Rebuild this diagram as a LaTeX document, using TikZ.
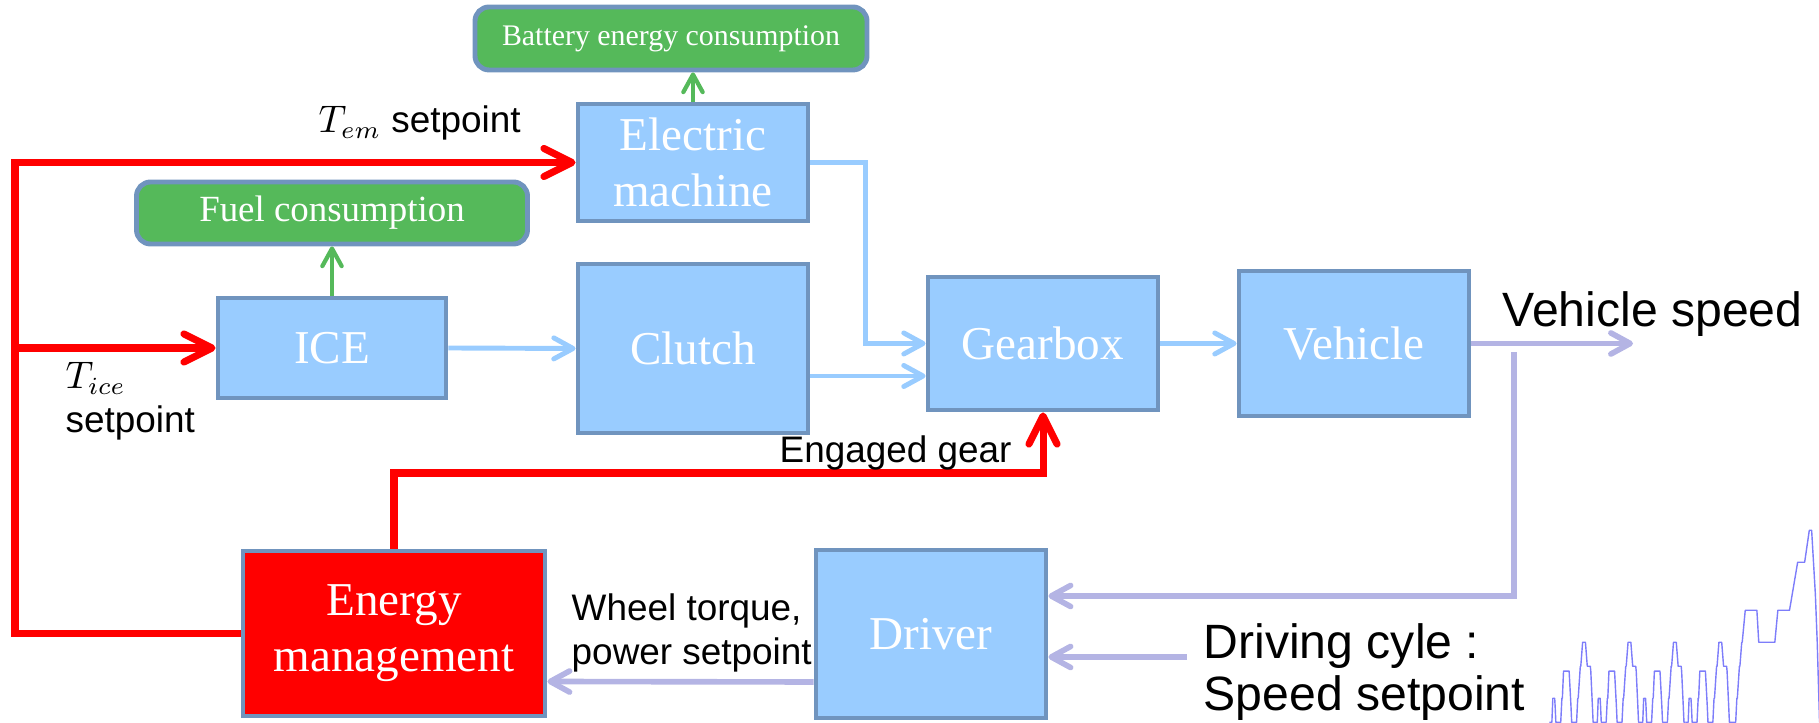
\documentclass[tikz,border=0pt]{standalone}
\usepackage{fontspec}
\setmainfont{Liberation Serif}
\setsansfont{Liberation Sans}
\usepackage{tikz}
\usetikzlibrary{arrows.meta}

\definecolor{boxblue}{RGB}{153,204,255}
\definecolor{edgeblue}{RGB}{112,148,190}
\definecolor{outgreen}{RGB}{85,185,90}
\definecolor{lavender}{RGB}{180,180,228}
\definecolor{cyclecol}{RGB}{125,125,250}

\begin{document}
\begin{tikzpicture}[
    block/.style={draw=edgeblue, line width=1.4pt, fill=boxblue, text=white, inner sep=0pt,
      align=center, font=\fontsize{13.4pt}{15.9pt}\selectfont},
    outbox/.style={draw=edgeblue, line width=1.4pt, fill=outgreen, text=white,
      rounded corners=4pt, inner sep=0pt},
    ctrl/.style={red, line width=2pt, -{Straight Barb[round,length=8pt,width=8pt]}},
    power/.style={boxblue, line width=1.4pt, -{Straight Barb[round,length=5.5pt,width=6pt]}},
    signal/.style={lavender, line width=1.6pt, -{Straight Barb[round,length=5.5pt,width=6pt]}},
    result/.style={outgreen, line width=1.2pt, -{Straight Barb[round,length=5pt,width=5.5pt]}},
    lbl/.style={inner sep=0pt, font=\sffamily\fontsize{10.5pt}{12.5pt}\selectfont},
    biglbl/.style={inner sep=0pt, align=left, font=\sffamily\fontsize{13.7pt}{14.8pt}\selectfont},
    cyc/.style={cyclecol, line width=0.4pt, line join=round},
  ]
  \useasboundingbox (0,0) rectangle (18.19,-7.23);

  % --- Outputs ---
  \node[outbox, minimum width=3.92cm, minimum height=0.63cm,
    font=\fontsize{8.5pt}{10pt}\selectfont] (battery) at (6.71,-0.385) {Battery energy consumption};
  \node[outbox, minimum width=3.91cm, minimum height=0.62cm,
    font=\fontsize{10.5pt}{12pt}\selectfont] (fuel) at (3.32,-2.13) {Fuel consumption};

  % --- Powertrain ---
  \node[block, minimum width=2.30cm, minimum height=1.17cm] (em) at (6.93,-1.625) {Electric\\machine};
  \node[block, minimum width=2.28cm, minimum height=1.00cm] (ice) at (3.32,-3.48) {ICE};
  \node[block, minimum width=2.30cm, minimum height=1.69cm] (clutch) at (6.93,-3.485) {Clutch};
  \node[block, minimum width=2.30cm, minimum height=1.33cm] (gearbox) at (10.43,-3.435) {Gearbox};
  \node[block, minimum width=2.30cm, minimum height=1.45cm] (vehicle) at (13.54,-3.435) {Vehicle};

  % --- Control ---
  \node[block, fill=red, minimum width=3.02cm, minimum height=1.65cm] (energy) at (3.94,-6.335) {Energy\\management};
  \node[block, minimum width=2.30cm, minimum height=1.68cm] (driver) at (9.31,-6.34) {Driver};

  % red setpoints
  \coordinate (bus) at (0.15,-1.625);
  \coordinate (gearlvl) at (0,-4.73);
  \draw[ctrl] (energy.west) -| (bus) -- (em.west);
  \draw[ctrl] (bus |- ice.west) -- (ice.west);
  \draw[ctrl] (energy.north) |- (gearbox.south |- gearlvl) -- (gearbox.south);

  % consumption
  \draw[result] (ice.north) -- (fuel.south);
  \draw[result] (em.north) -- (em.north |- battery.south);

  % power flow
  \draw[power] (ice.east) -- (clutch.west);
  \draw[power] (em.east) -- ++(0.55,0) |- (gearbox.west);
  \draw[power] ([yshift=-0.275cm]clutch.east) -- ([yshift=-0.325cm]gearbox.west);
  \draw[power] (gearbox.east) -- (vehicle.west);

  % speed loop
  \coordinate (speedout) at (16.33,-3.435);
  \coordinate (tap) at (15.14,-3.52);
  \coordinate (cyclein) at (11.87,-6.57);
  \draw[signal] (vehicle.east) -- (speedout);
  \draw[signal] (tap) |- ([yshift=0.38cm]driver.east);
  \draw[signal] (cyclein) -- (cyclein -| driver.east);
  \draw[signal] ([yshift=-0.48cm]driver.west) -- ([yshift=-0.48cm]energy.east);

  % labels
  \node[lbl, anchor=base west] (temlbl) at (3.18,-1.33) {$T_{em}$ setpoint};
  \node[lbl, anchor=north west, align=left] (ticelbl) at (0.65,-3.62) {$T_{ice}$\\setpoint};
  \node[lbl, anchor=base west] (gearlbl) at (7.79,-4.63) {Engaged gear};
  \node[lbl, anchor=north west, align=left] (wheellbl) at (5.71,-5.93) {Wheel torque,\\power setpoint};
  \node[biglbl, anchor=base west] (speedlbl) at (15.02,-3.27) {Vehicle speed};
  \node[biglbl, anchor=north west] (cyclelbl) at (12.03,-6.23) {Driving cyle :\\Speed setpoint};

  % driving cycle (4 x ECE-15 + EUDC)
  \begin{scope}
    \clip (0,0) rectangle (18.19,-7.23);
    \begin{scope}[shift={(15.493,-7.223)}, x=0.0233mm, y=0.16mm]
      \foreach \k in {0,...,3}
        \draw[cyc, shift={(\k*195,0)}] plot coordinates {(0,0) (11,0) (15,15) (23,15) (25,10) (28,0)
          (49,0) (54,15) (56,15) (61,32) (85,32) (93,10) (96,0) (117,0) (122,15) (124,15) (133,35)
          (135,35) (143,50) (155,50) (163,35) (176,35) (178,32) (185,10) (188,0) (195,0)};
      \draw[cyc, shift={(780,0)}] plot coordinates {(0,0) (20,0) (25,15) (27,15) (36,35) (38,35)
        (46,50) (48,50) (61,70) (111,70) (119,50) (188,50) (201,70) (251,70) (286,100) (316,100)
        (336,120) (346,120) (362,80) (370,50) (380,0) (400,0)};
    \end{scope}
  \end{scope}
\end{tikzpicture}
\end{document}
